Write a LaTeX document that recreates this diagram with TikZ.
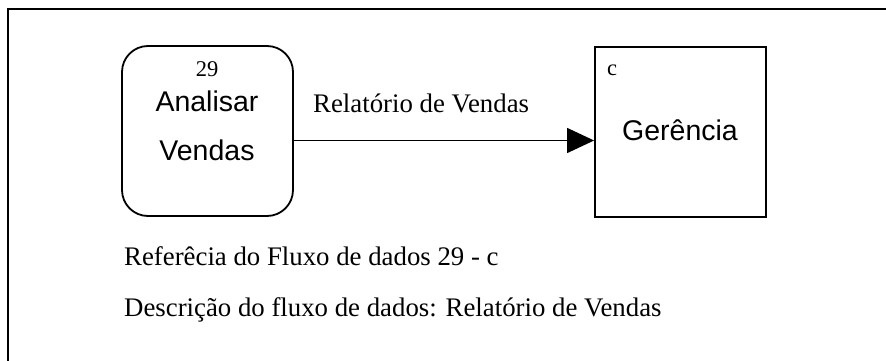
\documentclass[tikz,border=0pt]{standalone}
\usepackage{fontspec}
\setmainfont{Liberation Serif}
\newfontfamily\arialf{Liberation Sans}
\usetikzlibrary{arrows.meta}
\begin{document}
\begin{tikzpicture}[x=1pt,y=-1pt,
  box/.style={draw=black,line width=1.8pt,minimum width=171pt,minimum height=170pt,inner sep=0pt},
  serif/.style={font=\fontsize{26.8}{30}\selectfont,inner sep=0pt,anchor=base west},
  sans/.style={font=\arialf\fontsize{28.5}{32}\selectfont,inner sep=0pt,anchor=base},
  small/.style={font=\fontsize{22.5}{26}\selectfont,inner sep=0pt,anchor=base},
  flow/.style={draw=black,line width=1.3pt,-{Triangle[length=27pt,width=25pt]}}]
\useasboundingbox (0,0) rectangle (886,361);
\fill[white] (0,0) rectangle (886,361);
\begin{scope}
\clip (0,0) rectangle (886,361);
\draw[line width=2.8pt] (8,9) rectangle (920,400);
\end{scope}
\node[box,rounded corners=26pt] (proc) at (207.5,131) {};
\node[box] (ent) at (680.5,132) {};
\node[small] (pnum) at (207,77) {29};
\node[sans] (pl1) at (207,111) {Analisar};
\node[sans] (pl2) at (207,160) {Vendas};
\node[small,anchor=base west] (enum) at (607,76) {c};
\node[sans] (elab) at (680,140) {Gerência};
\draw[flow] ([yshift=-9.5pt]proc.east) -- ([yshift=-8.5pt]ent.west);
\node[serif] (flab) at (313,112) {Relatório de Vendas};
\node[serif] (ref) at (124,265) {Referêcia do Fluxo de dados 29 - c};
\node[serif] (desc) at (124,316) {Descrição do fluxo de dados: Relatório de Vendas};
\end{tikzpicture}
\end{document}
